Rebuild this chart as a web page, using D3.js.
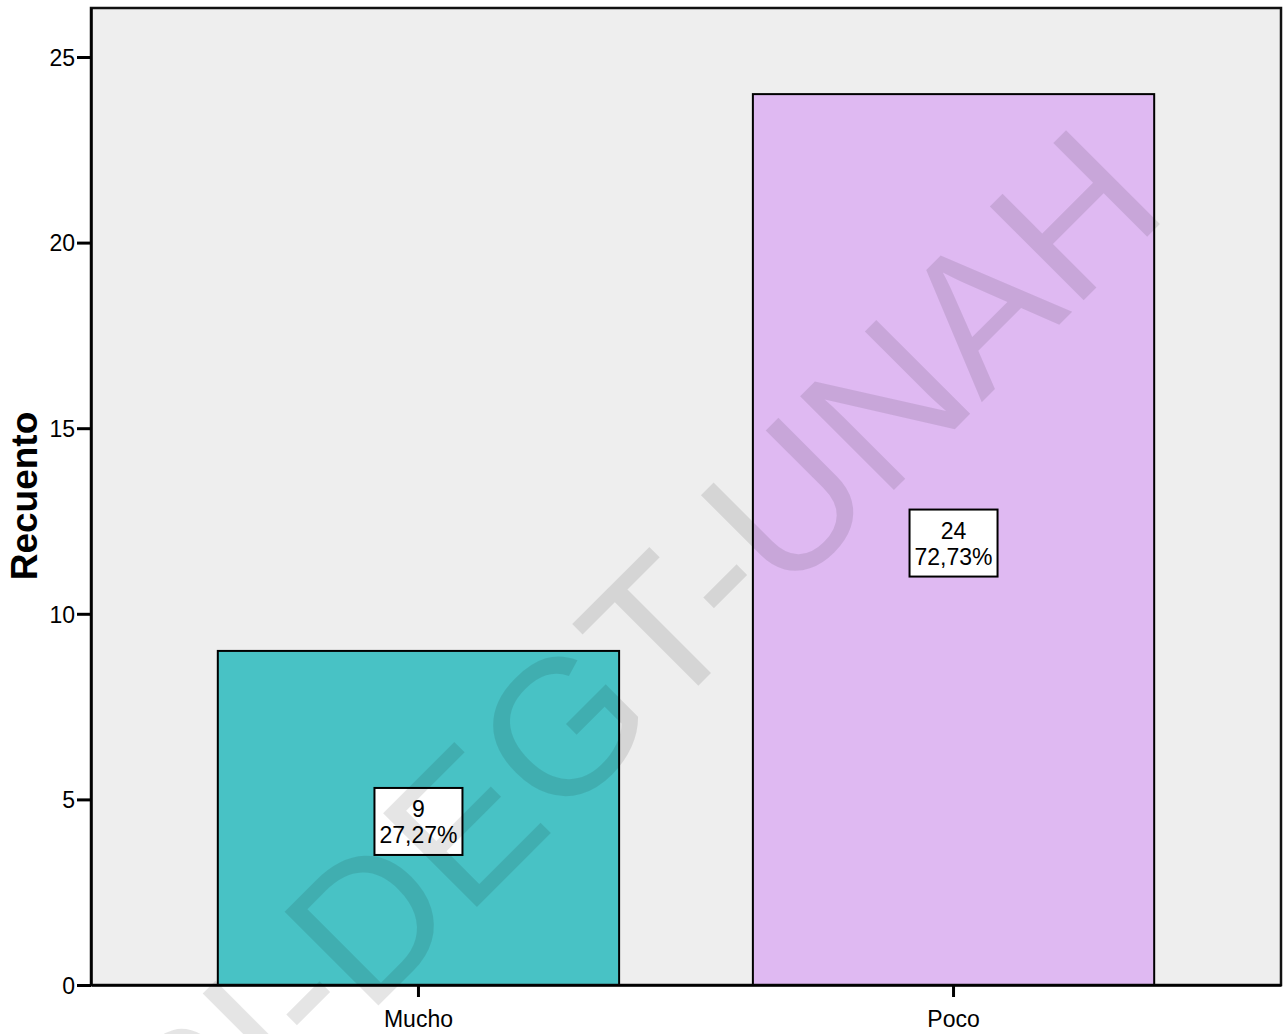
<!DOCTYPE html>
<html>
<head>
<meta charset="utf-8">
<script src="https://cdn.jsdelivr.net/npm/d3@7"></script>
<style>
  html, body { margin: 0; padding: 0; background: #ffffff; }
  svg { display: block; }
</style>
</head>
<body>
<svg id="chart" width="1288" height="1034"></svg>
<script>
const categories = ["Mucho", "Poco"];
const counts = [9, 24];
const percents = ["27,27%", "72,73%"];
const barColors = ["#48c2c5", "#dfb9f2"];
const yTicks = [0, 5, 10, 15, 20, 25];
const yTitle = "Recuento";
const watermark = "SI-DEGT-UNAH";

const svg = d3.select("#chart");
const pLeft = 91, pRight = 1281, pTop = 8, pBottom = 985;
const font = "'Liberation Sans', Arial, sans-serif";

const x = d3.scaleBand().domain(categories).range([pLeft, pRight])
  .paddingInner(0.25).paddingOuter(0.237);
const y = d3.scaleLinear().domain([0, 26.32]).range([pBottom, pTop]);

// plot background
svg.append("rect").attr("x", pLeft).attr("y", pTop)
  .attr("width", pRight - pLeft).attr("height", pBottom - pTop)
  .attr("fill", "#eeeeee");

// bars
svg.selectAll("rect.bar").data(categories).join("rect")
  .attr("class", "bar")
  .attr("x", d => x(d))
  .attr("y", (d, i) => y(counts[i]))
  .attr("width", x.bandwidth())
  .attr("height", (d, i) => y(0) - y(counts[i]))
  .attr("fill", (d, i) => barColors[i])
  .attr("stroke", "#000").attr("stroke-width", 2);

// frame
svg.append("rect").attr("x", pLeft).attr("y", pTop)
  .attr("width", pRight - pLeft).attr("height", pBottom - pTop)
  .attr("fill", "none").attr("stroke", "#111").attr("stroke-width", 2.5);

// y axis
const yAxis = svg.append("g").attr("transform", `translate(${pLeft},0)`)
  .call(d3.axisLeft(y).tickValues(yTicks).tickSizeInner(14).tickSizeOuter(0)
    .tickPadding(2).tickFormat(d3.format("d")));
yAxis.select(".domain").attr("stroke", "#000").attr("stroke-width", 2.5);
yAxis.selectAll(".tick line").attr("stroke", "#000").attr("stroke-width", 3);
yAxis.selectAll(".tick text").attr("font-family", font).attr("font-size", 23)
  .attr("fill", "#000").attr("dy", "0.36em");

// x axis
const xAxis = svg.append("g").attr("transform", `translate(0,${pBottom})`)
  .call(d3.axisBottom(x).tickSizeInner(12).tickSizeOuter(0).tickPadding(14));
xAxis.select(".domain").attr("stroke", "#000").attr("stroke-width", 2.5);
xAxis.selectAll(".tick line").attr("stroke", "#000").attr("stroke-width", 3);
xAxis.selectAll(".tick text").attr("font-family", font).attr("font-size", 23)
  .attr("fill", "#000");

// y title
svg.append("text")
  .attr("transform", `translate(37,496) rotate(-90)`)
  .attr("text-anchor", "middle")
  .attr("font-family", font).attr("font-weight", "bold").attr("font-size", 37)
  .attr("fill", "#000").text(yTitle);

// labels
const lab = svg.selectAll("g.lab").data(categories).join("g")
  .attr("class", "lab")
  .attr("transform", (d, i) => `translate(${x(d) + x.bandwidth() / 2},${(y(counts[i]) + y(0)) / 2 + 3})`);
lab.append("rect").attr("x", -44).attr("y", -33).attr("width", 88).attr("height", 67)
  .attr("fill", "#fff").attr("stroke", "#000").attr("stroke-width", 2);
lab.append("text").attr("y", -4).attr("text-anchor", "middle")
  .attr("font-family", font).attr("font-size", 23).attr("fill", "#000")
  .text((d, i) => counts[i]);
lab.append("text").attr("y", 22).attr("text-anchor", "middle")
  .attr("font-family", font).attr("font-size", 23).attr("fill", "#000")
  .text((d, i) => percents[i]);

// watermark
svg.append("text")
  .attr("transform", "translate(1171,213) rotate(-45)")
  .attr("text-anchor", "end")
  .attr("font-family", font).attr("font-size", 193)
  .attr("fill", "rgba(0,0,0,0.1)")
  .text(watermark);
</script>
</body>
</html>
